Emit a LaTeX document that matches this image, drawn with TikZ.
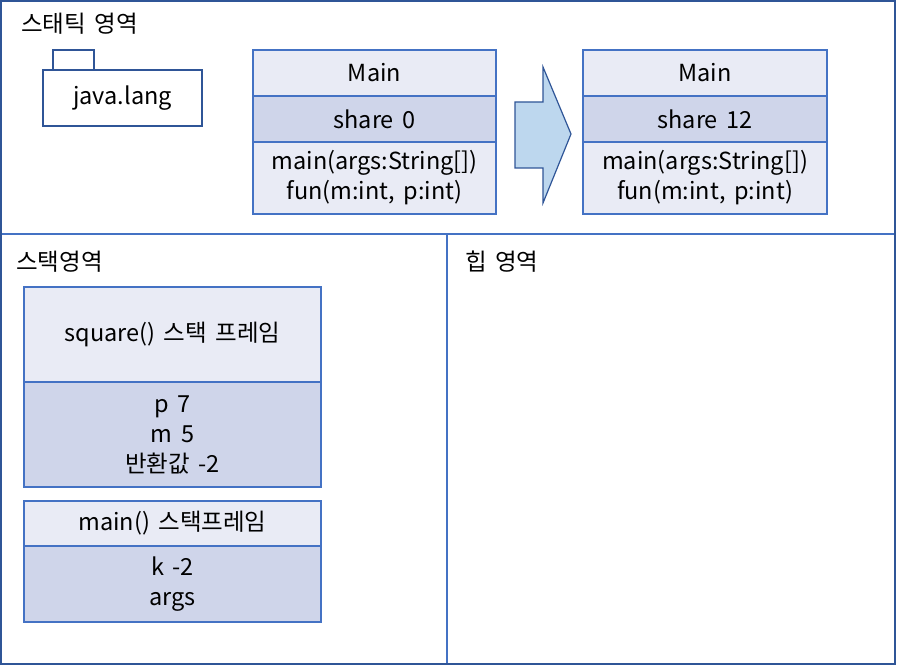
\documentclass[tikz,border=0pt]{standalone}
\usepackage{fontspec}
\setmainfont[WordSpace=1.6]{Noto Sans CJK KR}
\definecolor{frameblue}{HTML}{2F5597}
\definecolor{lineblue}{HTML}{4472C4}
\definecolor{lightfill}{HTML}{E9EBF5}
\definecolor{darkfill}{HTML}{CFD5EA}
\definecolor{arrowfill}{HTML}{BDD7EE}
\begin{document}
\begin{tikzpicture}[x=1pt,y=-1pt,
  txt/.style={font=\fontsize{23.5}{30}\selectfont},
  cell/.style={draw=lineblue, line width=1.5pt, inner sep=0pt, outer sep=0pt, align=center, txt},
  light/.style={cell, fill=lightfill},
  dark/.style={cell, fill=darkfill},
  folderbox/.style={draw=frameblue, fill=white, line width=1.5pt, inner sep=0pt, outer sep=0pt, txt},
  label/.style={anchor=west, inner sep=0pt, txt}
]
\useasboundingbox (0,0) rectangle (897,666);
% frame
\draw[lineblue, line width=2pt] (0,234) -- (895,234);
\draw[lineblue, line width=2pt] (447,234) -- (447,664);
\draw[frameblue, line width=2pt] (1,1) rectangle (895,664);
% labels
\node[label] (static) at (21,24) {스태틱 영역};
\node[label] (stack) at (16,262) {스택영역};
\node[label] (heap) at (465,262) {힙 영역};
% folder
\node[folderbox, minimum width=41pt, minimum height=20pt] (tab) at (73.5,60) {};
\node[folderbox, minimum width=159pt, minimum height=56pt] (pkg) at (122.5,98) {java.lang};
% left Main class
\node[light, minimum width=243pt, minimum height=46pt] (m1name) at (374.5,73) {Main};
\node[dark, minimum width=243pt, minimum height=46pt] (m1field) at (374.5,119) {share 0};
\node[light, minimum width=243pt, minimum height=72pt] (m1meth) at (374.5,178) {main(args:String[])\\fun(m:int, p:int)};
% right Main class
\node[light, minimum width=244pt, minimum height=46pt] (m2name) at (705,73) {Main};
\node[dark, minimum width=244pt, minimum height=46pt] (m2field) at (705,119) {share 12};
\node[light, minimum width=244pt, minimum height=72pt] (m2meth) at (705,178) {main(args:String[])\\fun(m:int, p:int)};
% block arrow
\draw[frameblue, fill=arrowfill, line width=1.2pt, line join=miter]
  (515,102) -- (543,102) -- (543,67) -- (571,134) -- (543,203) -- (543,168) -- (515,168) -- cycle;
% stack frames
\node[light, minimum width=297pt, minimum height=95pt] (sqhead) at (172.5,334.5) {square() 스택 프레임};
\node[dark, minimum width=297pt, minimum height=105pt] (sqbody) at (172.5,434.5) {p 7\\m 5\\반환값 -2};
\node[light, minimum width=297pt, minimum height=45pt] (mnhead) at (172.5,523.5) {main() 스택프레임};
\node[dark, minimum width=297pt, minimum height=76pt] (mnbody) at (172.5,584) {k -2\\args};
\end{tikzpicture}
\end{document}
